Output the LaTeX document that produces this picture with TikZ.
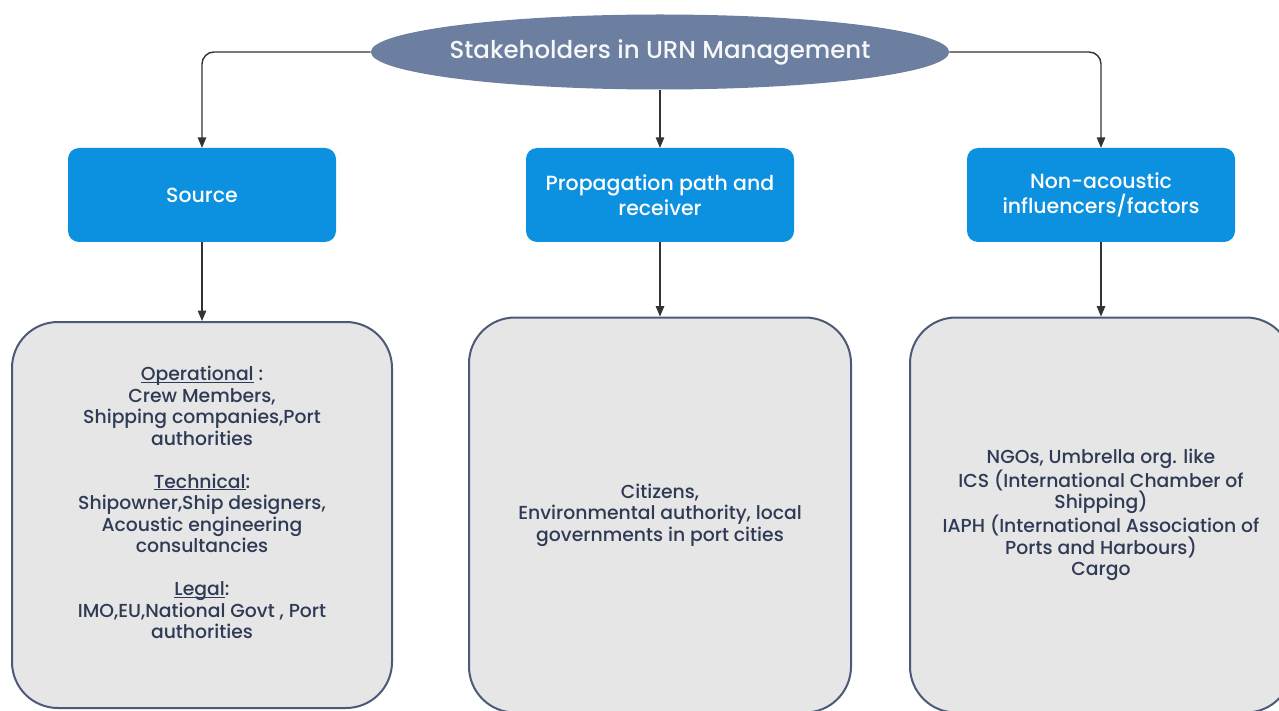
\documentclass[tikz,border=0pt]{standalone}
\usepackage{fontspec}
\setmainfont{Poppins Medium}
\usepackage{tikz}
\usetikzlibrary{arrows,shapes.geometric}

\definecolor{slate}{HTML}{6C7FA0}
\definecolor{skyblue}{HTML}{0B91E0}
\definecolor{boxgray}{HTML}{E6E6E6}
\definecolor{boxedge}{HTML}{4C5A78}
\definecolor{boxtext}{HTML}{2F3A55}
\definecolor{linkgray}{HTML}{333333}

% underline close to the baseline, ignoring descenders
\newcommand{\heading}[1]{\underline{\smash{#1}}}

\begin{document}
\begin{tikzpicture}[x=1pt,y=-1pt,
    root/.style={ellipse,fill=slate,text=white!94!slate,inner xsep=-6pt,
      minimum width=578pt,minimum height=75pt,font=\fontsize{24.5}{28}\selectfont},
    group/.style={fill=skyblue,rounded corners=11pt,text=white,align=center,
      minimum width=268pt,minimum height=94pt,font=\fontsize{20.5}{25.5}\selectfont},
    members/.style={draw=boxedge,line width=2pt,fill=boxgray,rounded corners=46pt,
      text=boxtext,align=center,font=\fontsize{18.8}{21.5}\selectfont},
    link/.style={draw=linkgray,line width=1.4pt,rounded corners=12pt,-triangle 45}]
      \useasboundingbox (0,0) rectangle (1279,711);
      \node[root] (title) at (660,52) {Stakeholders in URN Management};

      \node[group] (source) at (202,195) {Source};
      \node[group] (path) at (660,195) {Propagation path and\\receiver};
      \node[group] (factors) at (1101,195) {Non-acoustic\\influencers/factors};

      \node[members,minimum width=380pt,minimum height=386pt] (sourceList) at (202,515)
        {\heading{Operational} :\\Crew Members,\\Shipping companies,Port\\authorities\\[21.5pt]
         \heading{Technical}:\\Shipowner,Ship designers,\\Acoustic engineering\\consultancies\\[21.5pt]
         \heading{Legal}:\\IMO,EU,National Govt , Port\\authorities\\ \mbox{}};
      \node[members,minimum width=382pt,minimum height=395pt] (pathList) at (660,515)
        {Citizens,\\Environmental authority, local\\governments in port cities};
      \node[members,minimum width=382pt,minimum height=395pt] (factorsList) at (1101,515)
        {NGOs, Umbrella org. like\\ICS (International Chamber of\\Shipping)\\IAPH (International Association of\\Ports and Harbours)\\Cargo};

      \draw[link] (title.west) -| (source.north);
      \draw[link] (title.south) -- (path.north);
      \draw[link] (title.east) -| (factors.north);
      \draw[link] (source) -- (sourceList);
      \draw[link] (path) -- (pathList);
      \draw[link] (factors) -- (factorsList);
    \end{tikzpicture}
\end{document}
